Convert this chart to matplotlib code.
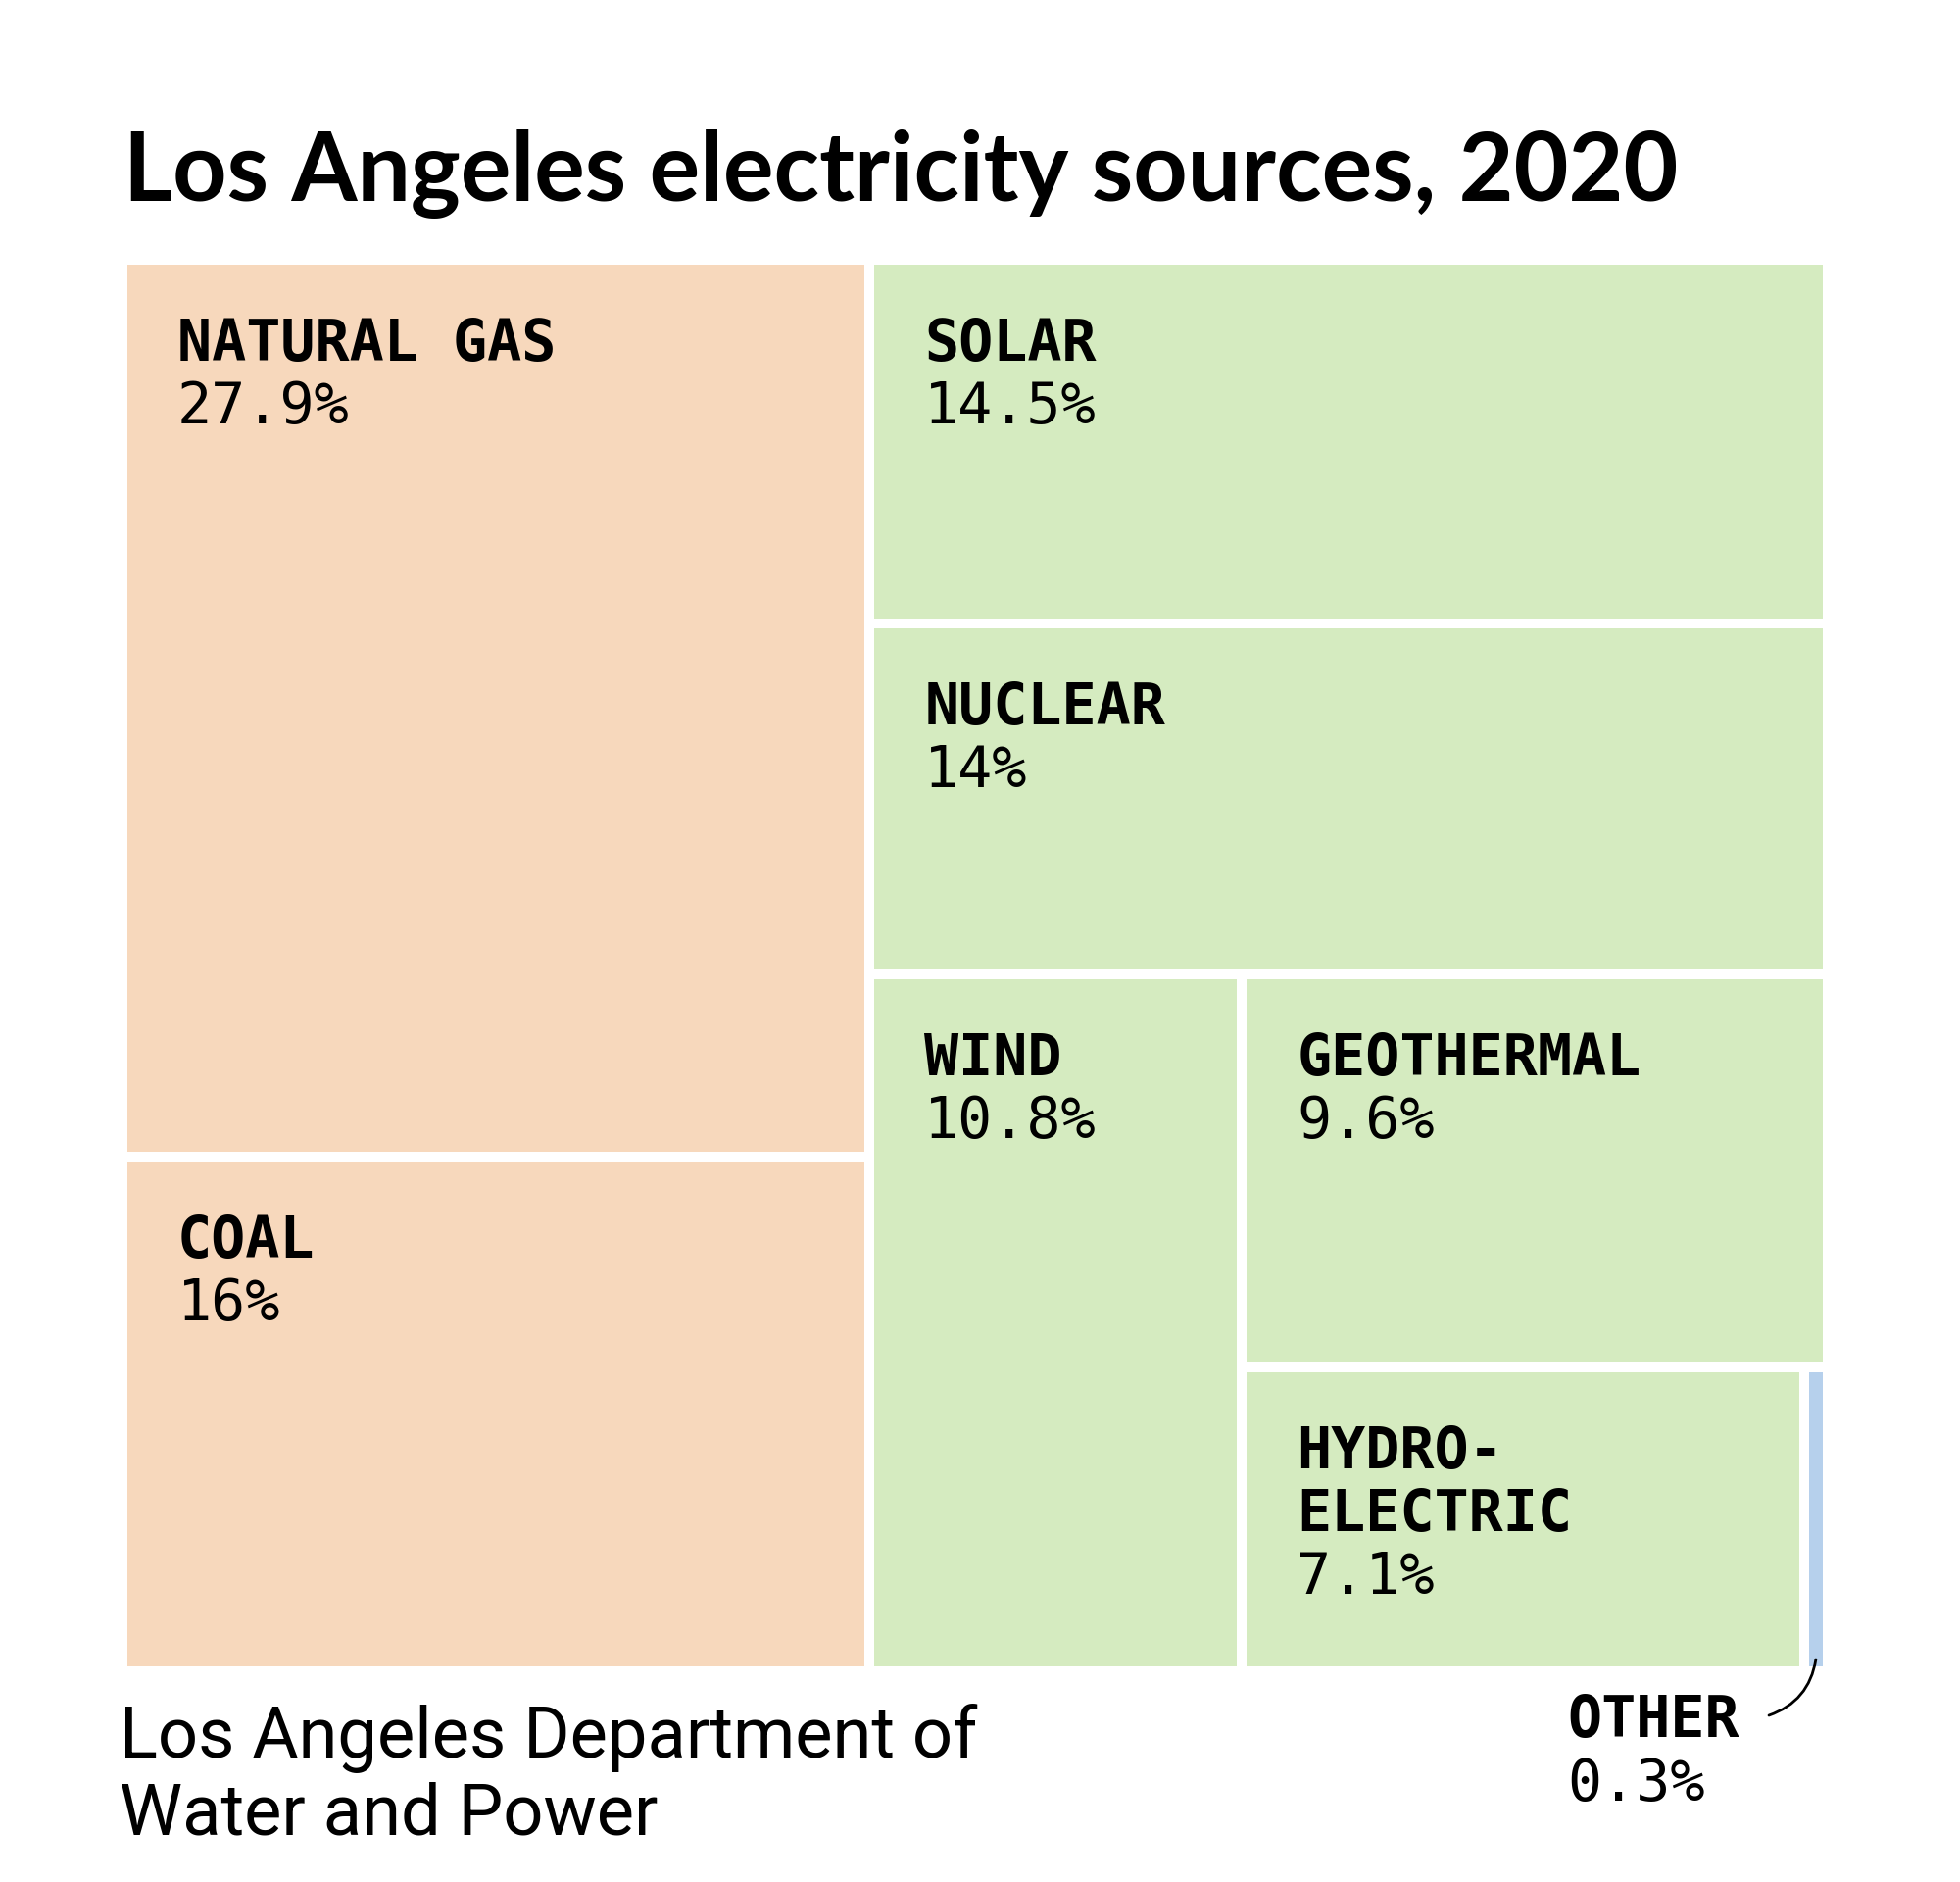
import matplotlib
matplotlib.use("Agg")
import matplotlib.pyplot as plt
from matplotlib.patches import Rectangle

# data (percent of 2020 supply)
sources = ["NATURAL GAS", "COAL", "SOLAR", "NUCLEAR", "WIND",
           "GEOTHERMAL", "HYDRO-\nELECTRIC", "OTHER"]
shares = [27.9, 16, 14.5, 14, 10.8, 9.6, 7.1, 0.3]
share_labels = ["27.9%", "16%", "14.5%", "14%", "10.8%", "9.6%", "7.1%", "0.3%"]
kinds = ["fossil", "fossil", "renew", "renew", "renew", "renew", "renew", "other"]
# strips of the treemap, laid along the shorter side in turn
strips = [[0, 1], [2], [3], [4], [5], [6], [7]]

colors = {"fossil": "#F7D8BC", "renew": "#D5EBC0", "other": "#B6D0EC"}

TITLE = "Los Angeles electricity sources, 2020"
SOURCE = ["Los Angeles Department of", "Water and Power"]

MONO = "DejaVu Sans Mono"


def strip_layout(values, strips, x, y, w, h):
    total = float(sum(values))
    rects = {}
    for s in strips:
        ssum = sum(values[i] for i in s)
        if w >= h:
            sw = w * ssum / total
            yy = y
            for i in s:
                ih = h * values[i] / ssum
                rects[i] = (x, yy, sw, ih)
                yy += ih
            x += sw
            w -= sw
        else:
            sh = h * ssum / total
            xx = x
            for i in s:
                iw = w * values[i] / ssum
                rects[i] = (xx, y, iw, sh)
                xx += iw
            y += sh
            h -= sh
        total -= ssum
    return rects


fig = plt.figure(figsize=(20, 19.2), dpi=100)
ax = fig.add_axes([0, 0, 1, 1])
ax.set_xlim(0, 2000)
ax.set_ylim(1920, 0)
ax.axis("off")

gap = 10
box = (130 - gap / 2, 270 - gap / 2, 1730 + gap, 1430 + gap)
rects = strip_layout(shares, strips, *box)

for i, name in enumerate(sources):
    x, y, w, h = rects[i]
    ax.add_patch(Rectangle((x + gap / 2, y + gap / 2), w - gap, h - gap,
                           facecolor=colors[kinds[i]], edgecolor="none"))
    if kinds[i] == "other":
        continue
    lines = name.split("\n")
    base = y + gap / 2 + 98
    for k, line in enumerate(lines):
        ax.text(x + gap / 2 + 51, base + 64 * k, line, family=MONO,
                fontweight="bold", fontsize=42, va="baseline", ha="left")
    ax.text(x + gap / 2 + 51, base + 64 * len(lines), share_labels[i],
            family=MONO, fontsize=42, va="baseline", ha="left")

# the sliver for "other" gets its label below the chart
ox, oy, ow, oh = rects[7]
ax.text(1599, 1772, sources[7], family=MONO, fontweight="bold",
        fontsize=42, va="baseline", ha="left")
ax.text(1599, 1837, share_labels[7], family=MONO, fontsize=42,
        va="baseline", ha="left")
ax.annotate("", xy=(ox + ow / 2, oy + oh - 12), xytext=(1805, 1750),
            arrowprops=dict(arrowstyle="-", color="black", lw=2,
                            connectionstyle="arc3,rad=0.3",
                            shrinkA=0, shrinkB=0))

ax.text(126, 205, TITLE, family="Lato", fontweight="bold", fontsize=69.5,
        va="baseline", ha="left")
for k, line in enumerate(SOURCE):
    ax.text(122, 1793 + 79 * k, line, family="Roboto", fontweight="normal",
            fontsize=52, va="baseline", ha="left")

fig.savefig("out.png", dpi=100, facecolor="white")
